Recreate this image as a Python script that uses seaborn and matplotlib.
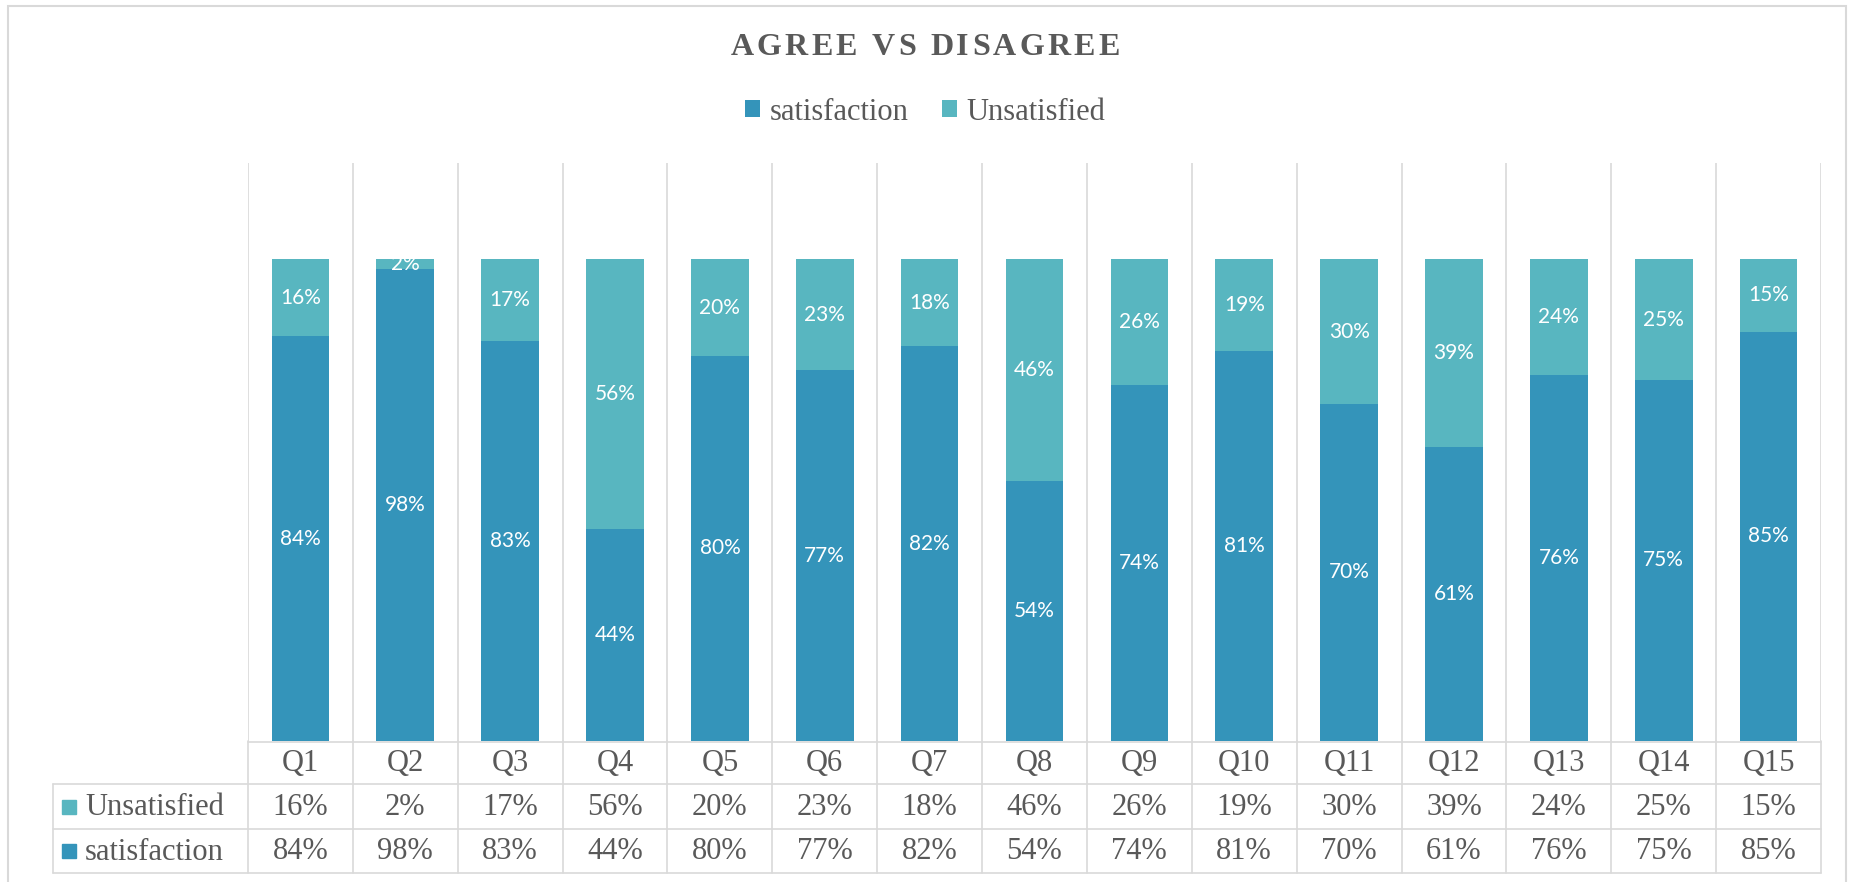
import matplotlib
matplotlib.use("Agg")
import matplotlib.pyplot as plt
import seaborn as sns
import numpy as np
import pandas as pd
from matplotlib.patches import Rectangle, Patch
from matplotlib import font_manager, ft2font
from matplotlib.font_manager import FontProperties

# ---------------- data ----------------
categories = ["Q1", "Q2", "Q3", "Q4", "Q5", "Q6", "Q7", "Q8", "Q9", "Q10",
              "Q11", "Q12", "Q13", "Q14", "Q15"]
satisfaction = [84, 98, 83, 44, 80, 77, 82, 54, 74, 81, 70, 61, 76, 75, 85]
unsatisfied = [16, 2, 17, 56, 20, 23, 18, 46, 26, 19, 30, 39, 24, 25, 15]
series_names = ["satisfaction", "Unsatisfied"]
title_text = "AGREE VS DISAGREE"

# ---------------- style ----------------
C_SAT = "#3494BA"
C_UNS = "#58B6C0"
C_TXT = "#595959"
C_GRID = "#D9D9D9"
SERIF = "Liberation Serif"
SANS = "Lato"

sns.set_theme(style="white")
plt.rcParams["font.family"] = [SERIF, "DejaVu Serif"]

W, H, DPI = 1850, 882, 100
fig = plt.figure(figsize=(W / DPI, H / DPI), dpi=DPI)

def fx(px):
    return px / W

def fy(py):
    return 1 - py / H

# plot area in pixels
PL, PR, PT, PB = 248, 1821, 163, 741
ax = fig.add_axes([fx(PL), fy(PB), fx(PR - PL), (PB - PT) / H])

df = pd.DataFrame({"cat": categories,
                   "sat": np.array(satisfaction) / 100.0,
                   "uns": np.array(unsatisfied) / 100.0})
df["total"] = df["sat"] + df["uns"]

sns.barplot(data=df, x="cat", y="total", color=C_UNS, saturation=1,
            width=0.55, linewidth=0, ax=ax, order=categories)
sns.barplot(data=df, x="cat", y="sat", color=C_SAT, saturation=1,
            width=0.55, linewidth=0, ax=ax, order=categories)

ax.set_xlim(-0.5, len(categories) - 0.5)
ax.set_ylim(0, 1.2)
ax.set_xlabel("")
ax.set_ylabel("")
ax.set_xticks([])
ax.set_yticks([])
for s in ax.spines.values():
    s.set_visible(False)
ax.patch.set_alpha(0)

# data labels
for i, (s, u) in enumerate(zip(df["sat"], df["uns"])):
    ax.text(i, s / 2, f"{int(round(s * 100))}%", ha="center", va="center",
            color="white", fontsize=15, family=SANS)
    ax.text(i, s + u / 2, f"{int(round(u * 100))}%", ha="center", va="center",
            color="white", fontsize=15, family=SANS)

# ---------------- table ----------------
TL, TB = 53, 873
ROW_Q, ROW_1, ROW_2 = 742, 784, 829
px_per_unit = (PR - PL) / len(categories)
tax = fig.add_axes([fx(TL), fy(TB), fx(PR - TL), (TB - PB) / H])
x_left = -0.5 - (PL - TL) / px_per_unit
tax.set_xlim(x_left, len(categories) - 0.5)
tax.set_ylim(TB, PB)
tax.axis("off")
tax.patch.set_alpha(0)

lw = 1.2
for k in range(len(categories) + 1):
    ax.axvline(k - 0.5, color=C_GRID, lw=lw, zorder=0)
    tax.plot([k - 0.5, k - 0.5], [PB, TB], color=C_GRID, lw=lw, clip_on=False)
tax.plot([x_left, x_left], [ROW_1, TB], color=C_GRID, lw=lw, clip_on=False)
tax.plot([-0.5, len(categories) - 0.5], [ROW_Q, ROW_Q], color=C_GRID, lw=lw, clip_on=False)
for yy in (ROW_1, ROW_2, TB):
    tax.plot([x_left, len(categories) - 0.5], [yy, yy], color=C_GRID, lw=lw, clip_on=False)

FS_T = 22
for i, c in enumerate(categories):
    tax.text(i, (ROW_Q + ROW_1) / 2 + 1, c, ha="center", va="center",
             fontsize=FS_T, color=C_TXT)
    tax.text(i, (ROW_1 + ROW_2) / 2 + 1, f"{unsatisfied[i]}%", ha="center",
             va="center", fontsize=FS_T, color=C_TXT)
    tax.text(i, (ROW_2 + TB) / 2 + 1, f"{satisfaction[i]}%", ha="center",
             va="center", fontsize=FS_T, color=C_TXT)

sq = 14
for name, col, (y0, y1) in ((series_names[1], C_UNS, (ROW_1, ROW_2)),
                            (series_names[0], C_SAT, (ROW_2, TB))):
    yc = (y0 + y1) / 2
    fig.patches.append(Rectangle((fx(62), fy(yc + sq / 2)), fx(sq), sq / H,
                                 transform=fig.transFigure, color=col))
    fig.text(fx(85), fy(yc + 1), name, ha="left", va="center",
             fontsize=FS_T, color=C_TXT)

# ---------------- title (letter-spaced) ----------------
TFS = 23
TRACK = 3.2  # extra px between letters
fpath = font_manager.findfont(FontProperties(family=SERIF, weight="bold"))
ft = ft2font.FT2Font(fpath)
ft.set_size(TFS, DPI)
adv = [ft.load_char(ord(ch)).linearHoriAdvance / 65536 for ch in title_text]
total_w = sum(adv) + TRACK * (len(title_text) - 1)
x = W / 2 - total_w / 2
for ch, a in zip(title_text, adv):
    if ch != " ":
        fig.text(fx(x), fy(55), ch, ha="left", va="baseline", fontsize=TFS,
                 fontweight="bold", color=C_TXT, family=SERIF)
    x += a + TRACK

# ---------------- legend ----------------
handles = [Patch(facecolor=C_SAT, edgecolor="none"),
           Patch(facecolor=C_UNS, edgecolor="none")]
fig.legend(handles, series_names, loc="center", bbox_to_anchor=(0.5, fy(112)),
           ncol=2, frameon=False, fontsize=22, handlelength=0.5,
           handleheight=0.5, handletextpad=0.3, columnspacing=1.1,
           labelcolor=C_TXT)

# outer border
fig.patches.append(Rectangle((fx(8), fy(H + 5)), fx(1846 - 8), (H + 5 - 6) / H,
                             transform=fig.transFigure, fill=False,
                             edgecolor=C_GRID, lw=1.5))

fig.savefig("out.png", dpi=DPI)
